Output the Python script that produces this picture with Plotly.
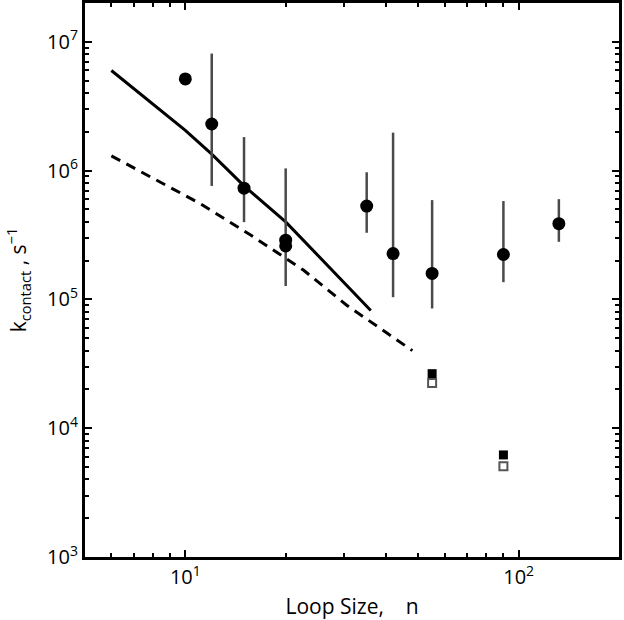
import plotly.graph_objects as go

# measured loop contact rates (circles) with error ranges
loop_n = [10, 12, 15, 20, 20, 35, 42, 55, 90, 132]
k_meas = [5.15e6, 2.3e6, 7.3e5, 2.88e5, 2.6e5, 5.3e5, 2.27e5, 1.59e5, 2.23e5, 3.87e5]
k_hi = [None, 8.1e6, 1.82e6, 1.04e6, None, 9.7e5, 1.97e6, 5.9e5, 5.8e5, 6.0e5]
k_lo = [None, 7.6e5, 3.98e5, 1.27e5, None, 3.29e5, 1.04e5, 8.5e4, 1.36e5, 2.8e5]

# squares
sq_n = [55, 90]
sq_filled = [2.65e4, 6.2e3]
sq_open = [2.24e4, 5.07e3]

# model curves
solid_n = [6, 10, 12, 15, 20, 25, 30, 36]
solid_k = [5.98e6, 2.05e6, 1.34e6, 7.6e5, 4.0e5, 2.2e5, 1.34e5, 8.2e4]
dash_n = [6, 11, 15.7, 22.6, 30.5, 48]
dash_k = [1.3e6, 5.6e5, 3.16e5, 1.69e5, 9.0e4, 4.0e4]

err_plus = [0 if h is None else h - v for h, v in zip(k_hi, k_meas)]
err_minus = [0 if l is None else v - l for l, v in zip(k_lo, k_meas)]

# minor tick positions 2..9 in each decade
x_minor = [m * 10 ** d for d in range(0, 3) for m in range(2, 10)]
y_minor = [m * 10 ** d for d in range(3, 8) for m in range(2, 10)]

fig = go.Figure()

fig.add_trace(go.Scatter(x=solid_n, y=solid_k, mode="lines",
                         line=dict(color="black", width=3)))
fig.add_trace(go.Scatter(x=dash_n, y=dash_k, mode="lines",
                         line=dict(color="black", width=3, dash="10px,7px")))

fig.add_trace(go.Scatter(
    x=loop_n, y=k_meas, mode="markers",
    marker=dict(color="black", size=13),
    error_y=dict(type="data", symmetric=False, array=err_plus, arrayminus=err_minus,
                 color="#4a4a4a", thickness=2.5, width=0)))

fig.add_trace(go.Scatter(x=sq_n, y=sq_filled, mode="markers",
                         marker=dict(symbol="square", color="black", size=9)))
fig.add_trace(go.Scatter(x=sq_n, y=sq_open, mode="markers",
                         marker=dict(symbol="square", color="white", size=8,
                                     line=dict(color="#555555", width=2))))

tick_font = dict(family="Open Sans", size=20, color="black")
title_font = dict(family="Open Sans", size=21, color="black")

fig.update_xaxes(
    type="log", range=[0.699, 2.301], automargin=False,
    tickvals=[10, 100], ticktext=["10<sup>1</sup>", "10<sup>2</sup>"],
    ticks="inside", ticklen=7, tickwidth=2, tickcolor="black",
    minor=dict(tickvals=x_minor, ticks="inside", ticklen=4, tickwidth=1.5,
               tickcolor="black", showgrid=False),
    showline=True, linewidth=3, linecolor="black", mirror="allticks",
    showgrid=False, zeroline=False, tickfont=tick_font,
    title=dict(text="Loop Size,    n", font=title_font))

fig.update_yaxes(
    type="log", range=[3, 7.301], automargin=False,
    tickvals=[1e3, 1e4, 1e5, 1e6, 1e7],
    ticktext=["10<sup>3</sup>", "10<sup>4</sup>", "10<sup>5</sup>", "10<sup>6</sup>", "10<sup>7</sup>"],
    ticks="inside", ticklen=7, tickwidth=2, tickcolor="black",
    minor=dict(tickvals=y_minor, ticks="inside", ticklen=4, tickwidth=1.5,
               tickcolor="black", showgrid=False),
    showline=True, linewidth=3, linecolor="black", mirror="allticks",
    showgrid=False, zeroline=False, tickfont=tick_font,
    title=dict(text="k<sub>contact</sub> , s<sup>\u22121</sup>", font=title_font))

fig.update_layout(
    width=624, height=620,
    margin=dict(l=85, r=5, t=3, b=63),
    paper_bgcolor="white", plot_bgcolor="white",
    showlegend=False)

# drop the page's default body margin so the figure sits at the top-left corner
fig.write_html("out.html", config={"displayModeBar": False},
               post_script="document.body.style.margin='0';")
